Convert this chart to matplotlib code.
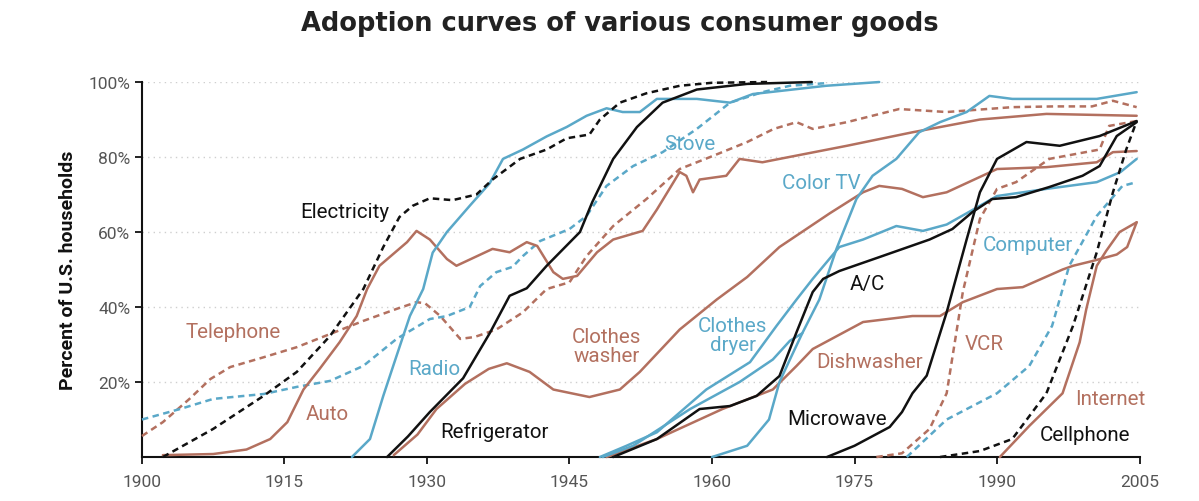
import numpy as np
import matplotlib.pyplot as plt

# colours used in the original
BLUE = "#5aa8c8"
BROWN = "#b3705f"
BLACK = "#111111"

# ---- data (year, percent of households) ----
electricity_x = [1902.2, 1907.5, 1912.8, 1916.3, 1919.8, 1923.3, 1925.4, 1927.1, 1928.5, 1930.3, 1932.7, 1935.2, 1936.9,
                 1939.8, 1942.6, 1944.7, 1947.1, 1948.2, 1950.3, 1953.1, 1956.6, 1960.0, 1965.8]
electricity_y = [0, 7.5, 16.3, 22.7, 32.3, 44.8, 56, 64, 67, 69, 68.5, 70, 74, 79.5, 82, 85, 86, 90, 94.5, 97, 99, 99.8, 100]

telephone_x = [1900, 1902.2, 1905, 1907.2, 1909.3, 1912.8, 1916.3, 1919.8, 1923.3, 1926.8, 1928.9, 1929.8, 1931.4, 1933.5,
               1935, 1937.3, 1940.1, 1942.6, 1945, 1946.8, 1949.6, 1953.1, 1956.6, 1960.1, 1963.7, 1966.5, 1968.9, 1970.6,
               1974.2, 1979.7, 1984.7, 1991.6, 1996, 2000, 2002.2, 2004.7]
telephone_y = [5.6, 9.3, 15.5, 20.8, 24, 26.6, 29.3, 32.8, 36.3, 39.5, 41.3, 41, 37.6, 31.5, 32, 34, 38.6, 44.8, 46.6, 53.6,
               61.6, 68.8, 76.8, 80.3, 84, 87.5, 89.3, 87.5, 89.3, 92.8, 92, 93.3, 93.5, 93.5, 95, 93.3]

stove_x = [1900, 1904, 1907.5, 1912.8, 1916.3, 1919.8, 1923.3, 1926.8, 1930.3, 1932.1, 1934.5, 1935.6, 1937.3, 1939,
           1940.1, 1941.9, 1945, 1946.8, 1948.9, 1951.7, 1954.8, 1958.4, 1961.9, 1965.3, 1968.2, 1972]
stove_y = [10, 12.8, 15.5, 16.8, 18.7, 20.3, 24.3, 31.5, 36.8, 37.6, 40, 45.6, 49.3, 50.7, 53.6, 57.6, 60.8, 64.3, 72.3,
           77.6, 81.3, 87.5, 94.5, 97.3, 99, 99.7]

auto_x = [1902.2, 1907.5, 1911, 1913.5, 1915.3, 1917, 1918.7, 1920.8, 1922.6, 1923.7, 1925, 1927.9, 1928.9, 1930.3,
          1932.1, 1933.1, 1936.9, 1938.7, 1940.5, 1941.6, 1943.3, 1944.3, 1945.8, 1947.9, 1949.6, 1952.7, 1954.2,
          1956.6, 1957.3, 1958, 1958.7, 1961.5, 1962.9, 1965.3, 1967.1, 1974.2, 1981.1, 1988.2, 1995.2, 2004.7]
auto_y = [0.5, 0.8, 2, 4.8, 9.3, 18, 23.5, 30.6, 37.6, 44.8, 51, 57.3, 60.3, 58, 52.8, 51, 55.5, 54.6, 57.3, 56.3, 49.3,
          47.5, 48.3, 54.6, 58, 60.3, 66, 76, 75, 70.6, 74, 75, 79.5, 78.6, 79.5, 83, 86.6, 90, 91.5, 91]

radio_x = [1922.1, 1924, 1925.4, 1926.8, 1928.2, 1929.6, 1930.6, 1932.1, 1934.5, 1936.6, 1938, 1940.1, 1942.6, 1944.7,
           1946.8, 1948.9, 1950.6, 1952.4, 1954.2, 1958.4, 1961.9, 1964.3, 1967.1, 1972, 1977.6]
radio_y = [0, 4.8, 16.3, 27, 37.6, 44.8, 54.5, 60, 67, 73, 79.5, 82, 85.5, 88, 91, 93, 92, 92, 95.5, 95.5, 94.5, 96.8,
           97.6, 99, 100]

fridge_x = [1925.8, 1928, 1930.3, 1933.8, 1936.6, 1938.7, 1940.5, 1942.6, 1946.1, 1947.4, 1949.6, 1952.1, 1954.8,
            1958.4, 1963.7, 1970.5]
fridge_y = [0, 5.5, 12, 21, 33, 43, 45, 51, 60, 68, 79.5, 88, 94.5, 98, 99.5, 100]

washer_x = [1926.5, 1929, 1931, 1934, 1936.5, 1938.4, 1940.8, 1943.3, 1947.1, 1950.3, 1952.4, 1956.6, 1960.5, 1963.7,
            1967.1, 1972.4, 1975.9, 1977.6, 1980, 1982.2, 1984.7, 1990, 1995.2, 2000.5, 2002.2, 2004.7]
washer_y = [0.5, 6, 12.8, 19.5, 23.5, 25, 22.7, 18, 16, 18, 22.7, 34, 42, 48, 56, 65, 70.6, 72.3, 71.5, 69.3, 70.6,
            76.8, 77.3, 78.6, 81.3, 81.6]

dryer_x = [1948.2, 1951, 1954.2, 1959.4, 1964, 1966.8, 1968.9, 1970.6, 1973.4, 1975.9, 1979.4, 1982.2, 1984.7, 1987.5,
           1990, 1995.2, 2000.5, 2003, 2004.7]
dryer_y = [0, 3, 6.6, 18, 25.3, 35, 42, 47.5, 56, 58, 61.6, 60.3, 62, 66, 69.6, 71.5, 73.3, 76, 79.5]

dryer2_x = [1948.5, 1951.7, 1957.7, 1962.9, 1966.4, 1968.2, 1969.5]
dryer2_y = [0, 3, 12.8, 20, 26, 31, 33]

colortv_x = [1960, 1963.7, 1966, 1967.1, 1968.2, 1969.5, 1971.3, 1973.1, 1975.2, 1976.9, 1979.4, 1981.8, 1984, 1986.8,
             1989.2, 1991.6, 1995.2, 2000.5, 2004.7]
colortv_y = [0, 3, 10, 20, 26, 33, 42, 55.5, 68.8, 75, 79.5, 86.6, 89.3, 92, 96.3, 95.5, 95.5, 95.5, 97.3]

dishwasher_x = [1948.9, 1954.2, 1961.1, 1966.4, 1968.9, 1970.6, 1975.9, 1981.1, 1984, 1986.4, 1990, 1992.7, 1996.9,
                1998, 2000.1, 2002.6, 2003.7, 2004.7]
dishwasher_y = [0, 4.8, 12.8, 18, 24.3, 28.8, 36, 37.6, 37.6, 41.3, 44.8, 45.3, 50, 51, 52.3, 54, 56, 62.6]

ac_x = [1949.6, 1954.2, 1958.7, 1961.9, 1964.7, 1967.1, 1968.9, 1970.6, 1971.7, 1973.4, 1977.6, 1982.9, 1985.3, 1987.4,
        1989.5, 1992, 1995.5, 1999, 2000.8, 2002.6, 2004.7]
ac_y = [0, 4.8, 12.8, 13.6, 16.3, 21.6, 33.3, 44, 47.5, 49.6, 53.3, 58, 60.8, 65.3, 68.8, 69.3, 72, 75, 77.6, 85.6, 89.3]

microwave_x = [1972.1, 1975, 1978.7, 1980, 1981.1, 1982.6, 1984.7, 1986.8, 1988.2, 1990, 1993.1, 1996.6, 2000.8, 2004.7]
microwave_y = [0, 3, 8, 12, 17, 21.7, 38.6, 58, 70.6, 79.5, 84, 83, 85.6, 89.6]

vcr_x = [1977.3, 1980, 1982.9, 1984.7, 1986.4, 1988.2, 1990, 1992, 1995.5, 2000.8, 2001.8, 2004.7]
vcr_y = [0, 1, 7.5, 17, 44, 63.5, 71.5, 73.3, 79.5, 82, 88.3, 89.6]

computer_x = [1980.5, 1984.7, 1990, 1993.4, 1995.8, 1997.6, 2000.5, 2003.2, 2004.7]
computer_y = [0, 10, 17, 24.3, 35, 51, 64.3, 72.3, 73.3]

cellphone_x = [1984, 1988.2, 1991.6, 1995.2, 1998, 2000.5, 2002.2, 2003.6, 2004.7]
cellphone_y = [0, 1.6, 4.8, 17, 35, 54.6, 70.6, 82, 89.6]

internet_x = [1990.3, 1993.4, 1996.9, 1998.7, 1999.4, 2000.5, 2001.5, 2002.9, 2004.7]
internet_y = [0, 8.3, 17, 30.6, 39.5, 51, 55, 60, 62.6]

# (x, y, colour, dashed)
series = [
    (telephone_x, telephone_y, BROWN, True),
    (stove_x, stove_y, BLUE, True),
    (auto_x, auto_y, BROWN, False),
    (washer_x, washer_y, BROWN, False),
    (dishwasher_x, dishwasher_y, BROWN, False),
    (internet_x, internet_y, BROWN, False),
    (vcr_x, vcr_y, BROWN, True),
    (radio_x, radio_y, BLUE, False),
    (dryer_x, dryer_y, BLUE, False),
    (dryer2_x, dryer2_y, BLUE, False),
    (colortv_x, colortv_y, BLUE, False),
    (computer_x, computer_y, BLUE, True),
    (electricity_x, electricity_y, BLACK, True),
    (fridge_x, fridge_y, BLACK, False),
    (ac_x, ac_y, BLACK, False),
    (microwave_x, microwave_y, BLACK, False),
    (cellphone_x, cellphone_y, BLACK, True),
]

# label text, x (year), y (%), colour
labels = [
    ("Electricity", 1921.4, 65.5, BLACK),
    ("Telephone", 1909.6, 33.6, BROWN),
    ("Auto", 1919.5, 11.5, BROWN),
    ("Radio", 1930.8, 23.5, BLUE),
    ("Refrigerator", 1937.1, 7.0, BLACK),
    ("Clothes\nwasher", 1948.9, 29.5, BROWN),
    ("Clothes\ndryer", 1962.2, 32.5, BLUE),
    ("Stove", 1957.7, 83.5, BLUE),
    ("Color TV", 1971.5, 73.3, BLUE),
    ("A/C", 1976.4, 46.4, BLACK),
    ("Dishwasher", 1976.6, 25.6, BROWN),
    ("VCR", 1988.7, 30.4, BROWN),
    ("Computer", 1993.3, 56.8, BLUE),
    ("Microwave", 1973.2, 10.4, BLACK),
    ("Internet", 2001.9, 15.7, BROWN),
    ("Cellphone", 1999.3, 5.9, BLACK),
]

plt.rcParams['font.family'] = ['Roboto', 'DejaVu Sans']

fig = plt.figure(figsize=(11.99, 5.02), dpi=100)
ax = fig.add_axes([0.1184, 0.0876, 0.832, 0.747])

for y in [20, 40, 60, 80, 100]:
    ax.axhline(y, color="#cfcfcf", lw=1, ls=(0, (1, 3)), zorder=0)

for xs, ys, col, dashed in series:
    ls = (0, (2.6, 1.8)) if dashed else "-"
    ax.plot(xs, ys, color=col, lw=1.8, ls=ls, solid_joinstyle="round", solid_capstyle="round",
            dash_capstyle="butt", clip_on=False, zorder=3)

for txt, lx, ly, col in labels:
    ax.text(lx, ly, txt, color=col, fontsize=14.8, ha="center", va="center", linespacing=1.0, zorder=4)

ax.set_xlim(1900, 2005)
ax.set_ylim(0, 100)
ax.set_xticks(np.arange(1900, 2006, 15))
ax.set_yticks([20, 40, 60, 80, 100])
ax.set_yticklabels([f"{v}%" for v in [20, 40, 60, 80, 100]])
ax.tick_params(axis="both", colors="#111111", labelcolor="#555555", labelsize=12.5, length=5, width=1.3)
ax.tick_params(axis="x", pad=7)
for s in ["top", "right"]:
    ax.spines[s].set_visible(False)
for s in ["left", "bottom"]:
    ax.spines[s].set_linewidth(1.5)
    ax.spines[s].set_color("#111111")

ax.set_ylabel("Percent of U.S. households", fontsize=14, fontweight="bold", color="#111111", labelpad=8)
fig.suptitle("Adoption curves of various consumer goods", fontsize=18.5, fontweight="bold", y=0.978,
             x=0.517, color="#222222", family=["DejaVu Sans"])

fig.savefig("out.png", dpi=100)
